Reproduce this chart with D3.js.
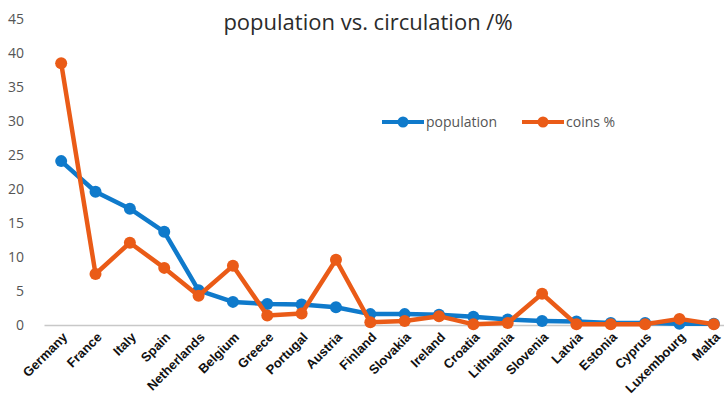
<!DOCTYPE html>
<html>
<head>
<meta charset="utf-8">
<script src="https://cdn.jsdelivr.net/npm/d3@7"></script>
<style>
  body { margin: 0; background: #fff; }
</style>
</head>
<body>
<div id="chart"></div>
<script>
// countries, in the order shown
const countries = ["Germany", "France", "Italy", "Spain", "Netherlands", "Belgium", "Greece",
  "Portugal", "Austria", "Finland", "Slovakia", "Ireland", "Croatia", "Lithuania", "Slovenia",
  "Latvia", "Estonia", "Cyprus", "Luxembourg", "Malta"];

const population = [24.1, 19.6, 17.1, 13.7, 5.1, 3.4, 3.1, 3.0, 2.6, 1.6, 1.6, 1.5, 1.2, 0.8,
  0.6, 0.5, 0.3, 0.3, 0.2, 0.2];

const coins = [38.5, 7.5, 12.1, 8.4, 4.3, 8.7, 1.4, 1.7, 9.6, 0.4, 0.6, 1.3, 0.1, 0.3,
  4.6, 0.1, 0.1, 0.1, 0.9, 0.1];

const yTicks = [0, 5, 10, 15, 20, 25, 30, 35, 40, 45];

const series = [
  { name: "population", values: population, color: "#0f7acb" },
  { name: "coins %", values: coins, color: "#ea5b17" }
];

const width = 724, height = 402;
const plotLeft = 44, plotRight = 731, plotTop = 19, plotBottom = 325;

const svg = d3.select("#chart").append("svg")
    .attr("width", width)
    .attr("height", height)
    .attr("font-family", "'Open Sans', sans-serif");

const x = d3.scaleBand().domain(countries).range([plotLeft, plotRight]);
const y = d3.scaleLinear().domain([0, 45]).range([plotBottom, plotTop]);

// title
svg.append("text")
    .attr("x", 368)
    .attr("y", 30)
    .attr("text-anchor", "middle")
    .attr("font-size", 22)
    .attr("fill", "#2b2b2b")
    .text("population vs. circulation /%");

// y axis labels (no axis line, no gridlines)
const yAxis = d3.axisLeft(y).tickValues(yTicks).tickSize(0).tickPadding(0);
svg.append("g")
    .attr("transform", `translate(${24},0)`)
    .call(yAxis)
    .call(g => g.select(".domain").remove())
    .selectAll("text")
      .attr("font-family", "'Open Sans', sans-serif")
      .attr("font-size", 14)
      .attr("fill", "#555");

// x axis
const xAxis = d3.axisBottom(x).tickSize(0).tickPadding(0);
const gx = svg.append("g")
    .attr("transform", `translate(0,${plotBottom})`)
    .call(xAxis);
gx.select(".domain").attr("stroke", "#c8c8c8").attr("stroke-width", 1.5);
gx.selectAll("text")
    .attr("font-family", "'Liberation Sans', Arial, sans-serif")
    .attr("font-size", 13)
    .attr("font-weight", "bold")
    .attr("fill", "#111")
    .attr("text-anchor", "end")
    .attr("dy", 0)
    .attr("transform", "translate(7,13) rotate(-45)");

const cx = d => x(d) + x.bandwidth() / 2;
const line = d3.line()
    .x((d, i) => cx(countries[i]))
    .y(d => y(d));

series.forEach(s => {
  const g = svg.append("g");
  g.append("path")
      .datum(s.values)
      .attr("fill", "none")
      .attr("stroke", s.color)
      .attr("stroke-width", 4.5)
      .attr("stroke-linejoin", "round")
      .attr("d", line);
  g.selectAll("circle")
    .data(s.values)
    .join("circle")
      .attr("cx", (d, i) => cx(countries[i]))
      .attr("cy", d => y(d))
      .attr("r", 6)
      .attr("fill", s.color);
});

// legend
const legend = svg.append("g").attr("transform", "translate(382,122)");
const legendX = [0, 140];
series.forEach((s, i) => {
  const g = legend.append("g").attr("transform", `translate(${legendX[i]},0)`);
  g.append("line")
      .attr("x1", 0).attr("x2", 42)
      .attr("stroke", s.color)
      .attr("stroke-width", 4);
  g.append("circle")
      .attr("cx", 21).attr("r", 5.5)
      .attr("fill", s.color);
  g.append("text")
      .attr("x", 44)
      .attr("y", 5)
      .attr("font-size", 14)
      .attr("fill", "#555")
      .text(s.name);
});
</script>
</body>
</html>
